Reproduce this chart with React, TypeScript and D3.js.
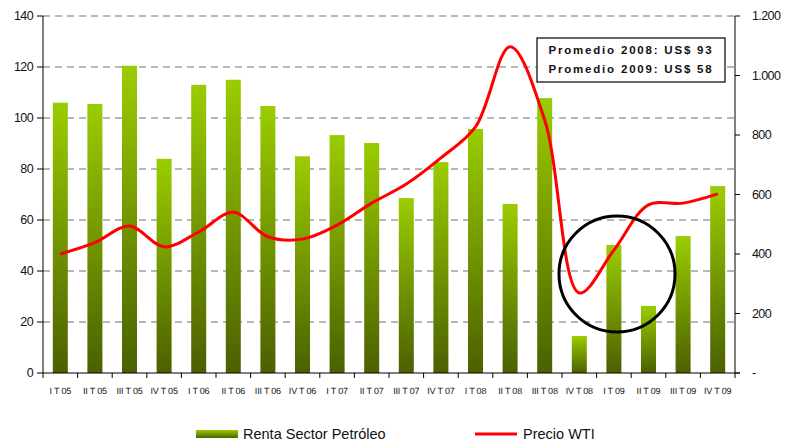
import React from "react";
import * as d3 from "d3";

const quarters = [
  "I T 05", "II T 05", "III T 05", "IV T 05",
  "I T 06", "II T 06", "III T 06", "IV T 06",
  "I T 07", "II T 07", "III T 07", "IV T 07",
  "I T 08", "II T 08", "III T 08", "IV T 08",
  "I T 09", "II T 09", "III T 09", "IV T 09",
];
const renta = [106, 105.5, 120.5, 84, 113, 115, 104.7, 85, 93.3, 90.2, 68.6, 82.7, 95.7, 66.3, 107.8, 14.5, 50.2, 26.3, 53.7, 73.3];
const wti = [400, 438, 494, 424, 474, 540, 458, 450, 497, 571, 635, 723, 827, 1097, 850, 269, 413, 565, 571, 602];
const leftTicks = [0, 20, 40, 60, 80, 100, 120, 140];
const rightTicks = [0, 200, 400, 600, 800, 1000, 1200];
const notes = ["Promedio 2008: US$ 93", "Promedio 2009: US$ 58"];

const W = 786;
const H = 443;
const m = { left: 43, right: 735, top: 16, bottom: 373 };
const font = "'Liberation Sans', Arial, sans-serif";

const App = () => {
  const x = d3.scaleBand().domain(quarters).range([m.left, m.right]);
  const yL = d3.scaleLinear().domain([0, 140]).range([m.bottom, m.top]);
  const yR = d3.scaleLinear().domain([0, 1200]).range([m.bottom, m.top]);
  const barW = 15;
  const cx = (q: string) => (x(q) as number) + x.bandwidth() / 2;

  const line = d3
    .line<number>()
    .x((d, i) => cx(quarters[i]))
    .y((d) => yR(d))
    .curve(d3.curveCatmullRom.alpha(0.5));

  const fmtR = (v: number) => (v === 0 ? "-" : d3.format(",")(v).replace(",", "."));

  return (
    <svg width={W} height={H} style={{ position: "absolute", left: 0, top: 0 }}>
      <defs>
        <linearGradient id="barGrad" x1="0" y1="0" x2="0" y2="1">
          <stop offset="0" stopColor="#9acd00" />
          <stop offset="1" stopColor="#4b6000" />
        </linearGradient>
      </defs>
      <rect width={W} height={H} fill="#fff" />

      {leftTicks.filter((t) => t > 0).map((t) => (
        <line key={t} x1={m.left} x2={m.right} y1={yL(t)} y2={yL(t)} stroke="#707070" strokeWidth={1.2} strokeDasharray="7,5" />
      ))}

      {quarters.map((q, i) => (
        <rect key={q} x={cx(q) - barW / 2} width={barW} y={yL(renta[i])} height={m.bottom - yL(renta[i])} fill="url(#barGrad)" />
      ))}

      <path d={line(wti) as string} fill="none" stroke="#ff0000" strokeWidth={3} strokeLinejoin="round" />

      {/* axes */}
      <line x1={m.left} x2={m.left} y1={m.top} y2={m.bottom} stroke="#000" />
      <line x1={m.right} x2={m.right} y1={m.top} y2={m.bottom} stroke="#000" />
      <line x1={m.left} x2={m.right + 5} y1={m.bottom} y2={m.bottom} stroke="#000" />
      {leftTicks.map((t) => (
        <g key={t}>
          <line x1={m.left - 6} x2={m.left} y1={yL(t)} y2={yL(t)} stroke="#000" />
          <text x={m.left - 10} y={yL(t)} dy="0.35em" textAnchor="end" fontFamily={font} fontSize={12.5} letterSpacing={-0.6} fill="#111">{t}</text>
        </g>
      ))}
      {rightTicks.map((t) => (
        <g key={t}>
          <line x1={m.right} x2={m.right + 5} y1={yR(t)} y2={yR(t)} stroke="#000" />
          <text x={m.right + 17} y={yR(t)} dy="0.35em" fontFamily={font} fontSize={12.5} letterSpacing={-0.6} fill="#111">{fmtR(t)}</text>
        </g>
      ))}
      {quarters.map((q) => (
        <g key={q}>
          <line x1={(x(q) as number) + x.bandwidth()} x2={(x(q) as number) + x.bandwidth()} y1={m.bottom} y2={m.bottom + 5} stroke="#000" />
          <text x={cx(q)} y={m.bottom + 21} textAnchor="middle" fontFamily={font} fontSize={9} letterSpacing={-0.2} fill="#111" style={{ textRendering: "geometricPrecision" }}>{q}</text>
        </g>
      ))}
      <line x1={m.left} x2={m.left} y1={m.bottom} y2={m.bottom + 5} stroke="#000" />

      {/* highlight circle */}
      <ellipse cx={617} cy={274} rx={58} ry={58} fill="none" stroke="#000" strokeWidth={3} />

      {/* note box */}
      <rect x={537} y={38} width={188} height={44} fill="#fff" stroke="#000" strokeWidth={1.2} />
      {notes.map((n, i) => (
        <text key={n} x={631} y={50 + i * 19} dy="0.35em" textAnchor="middle" fontFamily={font} fontWeight="bold" fontSize={11.5} letterSpacing={1.8} fill="#111">{n}</text>
      ))}

      {/* legend */}
      <rect x={196} y={430} width={42} height={8} fill="url(#barGrad)" />
      <text x={243} y={439} fontFamily={font} fontSize={14.5} fill="#111">Renta Sector Petróleo</text>
      <line x1={475} x2={517} y1={434} y2={434} stroke="#ff0000" strokeWidth={3} />
      <text x={523} y={439} fontFamily={font} fontSize={14.5} fill="#111">Precio WTI</text>
    </svg>
  );
};

export default App;
